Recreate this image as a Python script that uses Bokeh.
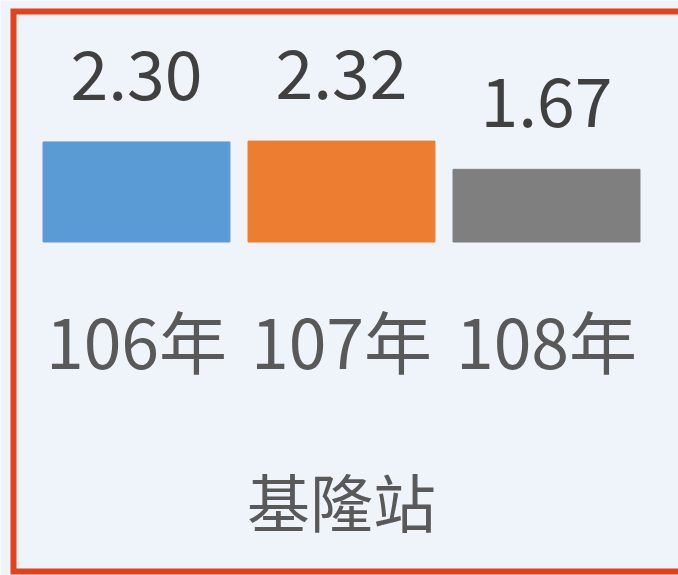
from bokeh.plotting import figure
from bokeh.models import Range1d, ColumnDataSource
from bokeh.core.properties import value
from bokeh.embed import file_html
from bokeh.resources import INLINE

# ---- data ----
categories = ["106年", "107年", "108年"]
values = [2.30, 2.32, 1.67]
value_labels = ["2.30", "2.32", "1.67"]
colors = ["#5B9BD5", "#ED7D31", "#7F7F7F"]
station = "基隆站"

W, H = 678, 575
PX_PER_UNIT_Y = 43.5
ZERO_FROM_TOP = 241.5
PX_PER_CAT = 205.0
FIRST_CENTER = 136.0

y_start = -(H - ZERO_FROM_TOP) / PX_PER_UNIT_Y
y_end = ZERO_FROM_TOP / PX_PER_UNIT_Y
x_start = -FIRST_CENTER / PX_PER_CAT
x_end = x_start + W / PX_PER_CAT

p = figure(width=W, height=H, x_range=Range1d(x_start, x_end), y_range=Range1d(y_start, y_end),
           output_backend="svg", toolbar_location=None, min_border=0,
           background_fill_color="#EFF4FA", border_fill_color="#EFF4FA")
p.axis.visible = False
p.grid.visible = False
p.outline_line_color = None

xs = list(range(len(categories)))
src = ColumnDataSource(dict(x=xs, cat=categories, val=values, lab=value_labels, col=colors,
                            zero=[0] * len(categories)))

p.vbar(x="x", top="val", bottom=0, width=0.912, color="col", source=src)

font = value("Noto Sans CJK TC")
p.text(x="x", y="val", text="lab", source=src, text_font=font,
       text_font_size="68px", text_color="#404040", text_align="center",
       text_baseline="alphabetic", y_offset=-67)
p.text(x="x", y="zero", text="cat", source=src, text_font=font,
       text_font_size="68px", text_color="#595959", text_align="center",
       text_baseline="alphabetic", y_offset=97)
p.text(x=[xs[1]], y=[0], text=[station], text_font=font,
       text_font_size="63px", text_color="#595959", text_align="center",
       text_baseline="alphabetic", y_offset=257)

# decorative frame (left, top, bottom edges; right edge lies beyond the picture)
fx_left = x_start + 13 / PX_PER_CAT
fx_right = x_start + 720 / PX_PER_CAT
fy_top = y_end - 11 / PX_PER_UNIT_Y
fy_bottom = y_end - 571 / PX_PER_UNIT_Y
p.line(x=[fx_right, fx_left, fx_left, fx_right], y=[fy_top, fy_top, fy_bottom, fy_bottom],
       line_color="#E2431A", line_width=6, line_join="miter")

open("out.html", "w").write(file_html(p, INLINE))
